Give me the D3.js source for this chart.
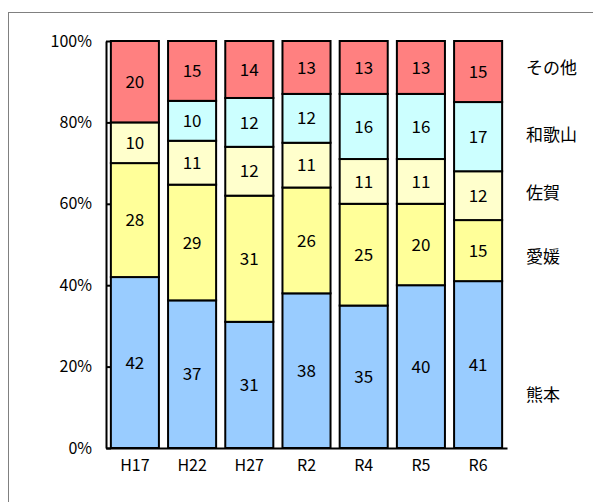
<!DOCTYPE html>
<html><head><meta charset="utf-8">
<script src="https://cdn.jsdelivr.net/npm/d3@7"></script>
<style>
body{margin:0;background:#fff;}
svg{display:block;}
text{font-family:"Noto Sans CJK JP","Noto Sans",sans-serif;fill:#000;}
</style></head>
<body>
<svg id="chart" width="593" height="502"></svg>
<script>
const categories = ["H17","H22","H27","R2","R4","R5","R6"];
const seriesNames = ["熊本","愛媛","佐賀","和歌山","その他"];
const kumamoto = [42,37,31,38,35,40,41];
const ehime    = [28,29,31,26,25,20,15];
const saga     = [10,11,12,11,11,11,12];
const wakayama = [0,10,12,12,16,16,17];
const sonota   = [20,15,14,13,13,13,15];
const yTicks   = [0,0.2,0.4,0.6,0.8,1.0];

const seriesValues = [kumamoto, ehime, saga, wakayama, sonota];
const colors = ["#99CCFF","#FFFF99","#FFFFCC","#CCFFFF","#FF8080"];
const labelY = [395,257,193,135,68];

const rows = categories.map((c,i)=>{
  const r = {cat:c};
  seriesNames.forEach((s,j)=>{ r[s] = seriesValues[j][i]; });
  return r;
});

const svg = d3.select("#chart");
svg.append("rect").attr("x",8.5).attr("y",12.5).attr("width",620).attr("height",520)
  .attr("fill","none").attr("stroke","#808080").attr("stroke-width",1);

const x = d3.scaleBand().domain(categories).range([106,507]).paddingInner(0.16).paddingOuter(0.085);
const y = d3.scaleLinear().domain([0,1]).range([448,41]);

const stack = d3.stack().keys(seriesNames).offset(d3.stackOffsetExpand);
const layers = stack(rows);

const g = svg.append("g");
layers.forEach((layer,j)=>{
  const lg = g.append("g");
  lg.selectAll("rect").data(layer).join("rect")
    .attr("x",d=>x(d.data.cat))
    .attr("y",d=>y(d[1]))
    .attr("width",x.bandwidth())
    .attr("height",d=>y(d[0])-y(d[1]))
    .attr("fill",colors[j])
    .attr("stroke","#000").attr("stroke-width",2);
});
layers.forEach((layer,j)=>{
  g.append("g").selectAll("text").data(layer.filter(d=>d.data[layer.key]>0)).join("text")
    .attr("x",d=>x(d.data.cat)+x.bandwidth()/2)
    .attr("y",d=>(y(d[0])+y(d[1]))/2)
    .attr("dy","0.36em")
    .attr("text-anchor","middle")
    .attr("font-size",17)
    .text(d=>d.data[layer.key]);
});

// y axis
const yAxis = d3.axisLeft(y).tickValues(yTicks).tickFormat(d3.format(".0%")).tickSizeInner(-5).tickSizeOuter(0).tickPadding(14);
const ya = svg.append("g").attr("transform","translate(106,0)").call(yAxis);
ya.select(".domain").attr("stroke","#000").attr("stroke-width",2);
ya.selectAll(".tick line").attr("stroke","#000").attr("stroke-width",2);
ya.selectAll(".tick text").attr("font-size",16).attr("font-family","'Noto Sans CJK JP',sans-serif").attr("fill","#000");

// x axis
const xAxis = d3.axisBottom(x).tickSize(0).tickPadding(12);
const xa = svg.append("g").attr("transform","translate(0,448)").call(xAxis);
xa.select(".domain").attr("stroke","#000").attr("stroke-width",2);
xa.selectAll(".tick text").attr("font-size",16).attr("font-family","'Noto Sans CJK JP',sans-serif").attr("fill","#000");

// series labels on right
svg.append("g").selectAll("text").data(seriesNames).join("text")
  .attr("x",526).attr("y",(d,i)=>labelY[i]).attr("dy","0.36em")
  .attr("font-size",17).text(d=>d);
</script>
</body></html>
